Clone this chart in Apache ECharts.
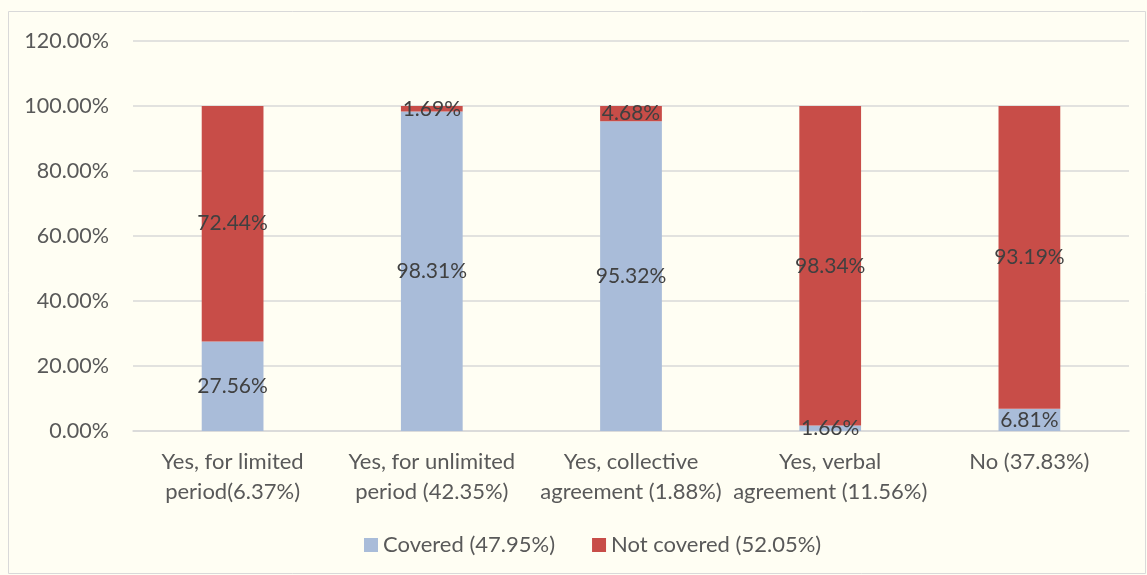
<!DOCTYPE html>
<html>
<head>
<meta charset="utf-8">
<script src="https://cdn.jsdelivr.net/npm/echarts@6/dist/echarts.min.js"></script>
<style>
html,body{margin:0;padding:0;background:#FFFEF3;}
#chart{width:1147px;height:575px;}
</style>
</head>
<body>
<div id="chart"></div>
<script>
var categories = [
  "Yes, for limited\nperiod(6.37%)",
  "Yes, for unlimited\nperiod (42.35%)",
  "Yes, collective\nagreement (1.88%)",
  "Yes, verbal\nagreement (11.56%)",
  "No (37.83%)"
];
var seriesNames = ["Covered (47.95%)", "Not covered (52.05%)"];
var covered = [27.56, 98.31, 95.32, 1.66, 6.81];
var notCovered = [72.44, 1.69, 4.68, 98.34, 93.19];
var yTicks = { min: 0, max: 120, interval: 20 };

var chart = echarts.init(document.getElementById('chart'));
var font = 'Lato, "Open Sans", sans-serif';
var labelCfg = {
  show: true,
  position: 'inside',
  color: '#404040',
  fontFamily: font,
  fontSize: 21,
  formatter: function (p) { return p.value.toFixed(2) + '%'; }
};
chart.setOption({
  backgroundColor: '#FFFEF3',
  animation: false,
  graphic: [{
    type: 'rect',
    shape: { x: 8.5, y: 11.5, width: 1137, height: 562 },
    style: { fill: 'none', stroke: '#D9D9D9', lineWidth: 1 },
    silent: true
  }],
  grid: { left: 133, right: 18, top: 41, bottom: 144 },
  legend: {
    bottom: 14,
    left: 359,
    icon: 'rect',
    itemWidth: 14,
    itemHeight: 14,
    itemGap: 37,
    textStyle: { color: '#595959', fontFamily: font, fontSize: 22 },
    data: seriesNames
  },
  xAxis: {
    type: 'category',
    data: categories,
    axisLine: { show: true, lineStyle: { color: '#D9D9D9', width: 1.5 } },
    axisTick: { show: false },
    axisLabel: {
      interval: 0,
      margin: 16,
      color: '#595959',
      fontFamily: font,
      fontSize: 22,
      lineHeight: 30
    }
  },
  yAxis: {
    type: 'value',
    min: yTicks.min,
    max: yTicks.max,
    interval: yTicks.interval,
    axisLine: { show: false },
    axisTick: { show: false },
    splitLine: { lineStyle: { color: '#D9D9D9', width: 1.5 } },
    axisLabel: {
      margin: 24,
      color: '#595959',
      fontFamily: font,
      fontSize: 21.5,
      formatter: function (v) { return v.toFixed(2) + '%'; }
    }
  },
  series: [
    {
      name: seriesNames[0],
      type: 'bar',
      stack: 'total',
      data: covered,
      barWidth: '31%',
      itemStyle: { color: '#A9BCD9' },
      label: labelCfg
    },
    {
      name: seriesNames[1],
      type: 'bar',
      stack: 'total',
      data: notCovered,
      barWidth: '31%',
      itemStyle: { color: '#C84D48' },
      label: labelCfg
    }
  ]
});
</script>
</body>
</html>
